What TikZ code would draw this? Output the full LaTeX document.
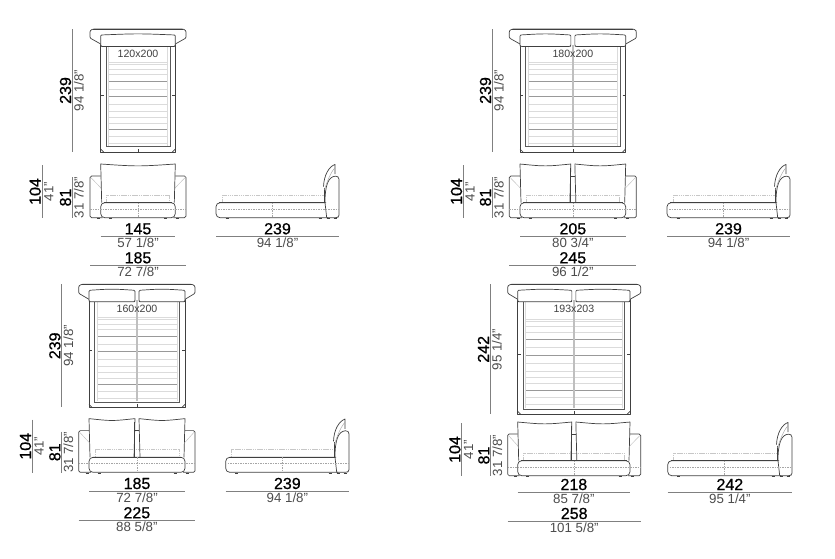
\documentclass[tikz,border=0pt]{standalone}
\usepackage{fontspec}
\setmainfont{Liberation Sans}
\newfontfamily\dimfont[FakeBold=0.7]{Liberation Sans}
\usepackage{tikz}
\tikzstyle{bedline} = [draw=black!75, line width=0.7pt, line join=round]
\tikzstyle{bedthick} = [draw=black!75, line width=1pt]
\tikzstyle{slatline} = [draw=black!14, line width=0.6pt]
\tikzstyle{slatdark} = [draw=black!40, line width=0.7pt]
\tikzstyle{hiddenline} = [draw=black!35, line width=0.45pt, dash pattern=on 1.5pt off 1pt]
\tikzstyle{boxline} = [draw=black!22, line width=0.45pt, dash pattern=on 1.5pt off 0.7pt]
\tikzstyle{dimline} = [draw=black!50, line width=0.6pt]
\tikzstyle{dimbig} = [inner sep=0pt, text=black, font=\dimfont\fontsize{16}{16}\selectfont]
\tikzstyle{dimsmall} = [inner sep=0pt, text=black!70, font=\fontsize{13.3}{13.3}\selectfont]
\tikzstyle{sizelabel} = [inner sep=0pt, text=black!75, font=\fontsize{10.6}{10.6}\selectfont]

% #1 name, #2 x from, #3 x to, #4 y, #5 big text, #6 small text
\newcommand{\dimh}[6]{
\pgfmathsetmacro{\xmid}{(#2+#3)/2}
\coordinate (#1-a) at (#2,#4);
\coordinate (#1-b) at (#3,#4);
\draw[dimline] (#1-a) -- (#1-b);
\node[dimbig, anchor=base] (#1-big) at (\xmid,#4-2) {#5};
\node[dimsmall, anchor=base] (#1-small) at (\xmid,#4+11.3) {#6};
}
% #1 name, #2 x, #3 y from, #4 y to, #5 big text, #6 small text
\newcommand{\dimv}[6]{
\pgfmathsetmacro{\ymid}{(#3+#4)/2}
\coordinate (#1-a) at (#2,#3);
\coordinate (#1-b) at (#2,#4);
\draw[dimline] (#1-a) -- (#1-b);
\node[dimbig, anchor=base, rotate=90] (#1-big) at (#2-1.3,\ymid) {#5};
\node[dimsmall, anchor=base, rotate=90] (#1-small) at (#2+11.3,\ymid) {#6};
}
% #1 x from, #2 x to, #3 y
\newcommand{\plancushion}[3]{
\pgfmathsetmacro{\xc}{(#1+#2)/2}
\draw[bedline, fill=white, rounded corners=1pt] (#1,#3+12) -- (#1,#3+1) .. controls (\xc,#3-0.5) .. (#2,#3+1) -- (#2,#3+12) -- (#2-1,#3+12.5) -- (#1+1,#3+12.5) -- cycle;
}
% #1..#4 x of arm, frame, frame, arm; #5 y top, #6 y bottom, #7 label, #8 cushions, 
\newcommand{\planview}[8]{
\pgfmathsetmacro{\xm}{(#2+#3)/2}
\pgfmathsetmacro{\ys}{(#6-#5)/123}
\pgfmathsetmacro{\ymidp}{(#5+#6)/2+5}
\draw[bedline, rounded corners=1pt] (#2,#5+15) -- (#1,#5+9) -- (#1,#5+2) -- (#1+1,#5+1) -- (#1+3,#5) -- (#4-3,#5) -- (#4-1,#5+1) -- (#4,#5+2) -- (#4,#5+9) -- (#3,#5+15);
\draw[bedthick] (#1+3,#5) -- (#4-3,#5);
\draw[bedline] (#2,#5+15) -- (#2,#6) -- (#3,#6) -- (#3,#5+15);
\draw[bedline] (#2,#6-3) -- (#2+3,#6) (#3,#6-3) -- (#3-3,#6);
\foreach \s in {33,35,40,45,60,75,82,88,94,107,114}
  \draw[slatline] (#2+8,#5+\s*\ys) -- (#3-8,#5+\s*\ys);
\foreach \s in {52,67,100}
  \draw[slatdark] (#2+8,#5+\s*\ys) -- (#3-8,#5+\s*\ys);
\draw[slatline] (#2+8,#5+17) -- (#2+8,#6-6) (#3-8,#5+17) -- (#3-8,#6-6);
\draw[draw=black!65, line width=0.9pt] (#2+5.3,#5+16) -- (#2+5.3,#6-5.3) -- (#3-5.3,#6-5.3) -- (#3-5.3,#5+16);
\draw[bedline] (#2,\ymidp) -- (#2+3,\ymidp) (#3-3,\ymidp) -- (#3,\ymidp) (\xm,#6-3) -- (\xm,#6);
\ifnum#8=2
  \draw[draw=black!25, line width=1.4pt] (\xm,#5+16) -- (\xm,#6-6);
  \plancushion{#2}{\xm-2}{#5+5}
  \plancushion{\xm+2}{#3}{#5+5}
\else
  \plancushion{#2}{#3}{#5+5}
\fi
\node[sizelabel] (#7) at (\xm,#5+25) {#7};
}
% #1 x from, #2 x to, #3 y top, #4 y mattress
\newcommand{\frontcushion}[4]{
\pgfmathsetmacro{\xc}{(#1+#2)/2}
\draw[bedline] (#1+1,#4) -- (#1,#3) .. controls (\xc,#3+2.5) .. (#2,#3) -- (#2-1,#4);
}
% #1..#4 x of arm, frame, frame, arm; #5 y bottom, #6 cushions
\newcommand{\frontview}[6]{
\pgfmathsetmacro{\xm}{(#2+#3)/2}
\draw[bedline, rounded corners=1.5pt] (#2,#5-41.7) -- (#1,#5-41.7) -- (#1,#5) -- (#2+2,#5);
\draw[bedline, rounded corners=1.5pt] (#3,#5-41.7) -- (#4,#5-41.7) -- (#4,#5) -- (#3-2,#5);
\draw[draw=black!25, line width=0.45pt] (#1+1,#5-40) -- (#2,#5-30) (#4-1,#5-40) -- (#3,#5-30);
\draw[boxline] (#2+6,#5-15) -- (#2+6,#5-22.7) -- (#3-6,#5-22.7) -- (#3-6,#5-15);
\ifnum#6=2
  \draw[bedline] (\xm-2,#5-41.7) -- (\xm+2,#5-41.7);
  \frontcushion{#2}{\xm-2}{#5-53.7}{#5-15}
  \frontcushion{\xm+2}{#3}{#5-53.7}{#5-15}
  \draw[bedthick] (\xm-2.8,#5-50) -- (\xm-2.8,#5-15);
\else
  \frontcushion{#2}{#3}{#5-53.7}{#5-15}
\fi
\draw[bedline, fill=white, rounded corners=4pt] (#2,#5-15) rectangle (#3,#5);
\draw[bedthick] (#2+3,#5-15) -- (#3-3,#5-15);
\draw[hiddenline] (#1,#5-8.7) -- (#4,#5-8.7);
\draw[hiddenline] (\xm,#5-15) -- (\xm,#5);
\foreach \l in {#2-2,#2+10,#3-10,#3+2}
  \draw[bedthick] (\l-1.5,#5+0.7) -- (\l+1.5,#5+0.7);
}
% #1 x from, #2 x to, #3 y bottom
\newcommand{\sideview}[3]{
\pgfmathsetmacro{\xm}{(#1+#2-11)/2}
\draw[boxline] (#1+6,#3-15) -- (#1+6,#3-22.7) -- (#2-14,#3-22.7);
\draw[bedline, rounded corners=4pt] (#2-13,#3-15) -- (#1,#3-15) -- (#1,#3) -- (#2-11,#3);
\draw[bedthick] (#1+3,#3-15) -- (#2-14,#3-15);
\draw[bedline, rounded corners=1.5pt] (#2-14,#3-15) .. controls (#2-14,#3-32) and (#2-11,#3-41) .. (#2-2,#3-41.7) -- (#2,#3-40) -- (#2,#3-1) -- (#2-2,#3) -- (#2-12,#3);
\draw[bedline] (#2-14,#3-15) -- (#2-12.3,#3);
\draw[bedthick] (#2-14.5,#3-30) -- (#2-14.5,#3-15);
\draw[bedline] (#2-15.5,#3-31) .. controls (#2-15,#3-43) and (#2-10,#3-51) .. (#2-4,#3-53.3) -- (#2-4,#3-43.5);
\draw[draw=black!35, line width=0.45pt] (#2-14.5,#3-28) .. controls (#2-12,#3-36) and (#2-8,#3-46) .. (#2-4,#3-50);
\draw[hiddenline] (#1+2,#3-8.7) -- (#2,#3-8.7);
\draw[hiddenline] (\xm,#3-15) -- (\xm,#3);
\foreach \l in {#1+11,#2-19,#2-11,#2-4}
  \draw[bedthick] (\l-1.5,#3+0.7) -- (\l+1.5,#3+0.7);
}

\begin{document}
\begin{tikzpicture}[x=1pt,y=-1pt]
\useasboundingbox (0,0) rectangle (835,558);
% top left
\planview{90}{100.7}{175.3}{186}{29}{152}{120x200}{1}
\dimv{planA}{72.3}{29}{152}{239}{94 1/8"}
\frontview{90}{100.7}{175.3}{186}{217.7}{1}
\dimv{heightA}{42}{165}{218}{104}{41"}
\dimv{seatA}{72.3}{177}{218}{81}{31 7/8"}
\dimh{innerA}{100.7}{175.3}{236.3}{145}{57 1/8"}
\dimh{outerA}{90}{186}{265.3}{185}{72 7/8"}
\sideview{216}{339}{217.7}
\dimh{sideA}{216}{339}{236.3}{239}{94 1/8"}
% top right
\planview{509.3}{520}{625.7}{636.3}{29}{152}{180x200}{2}
\dimv{planB}{492.3}{29}{152}{239}{94 1/8"}
\frontview{509.3}{520}{625.7}{636.3}{217.7}{2}
\dimv{heightB}{463.3}{165}{218}{104}{41"}
\dimv{seatB}{492.3}{177}{218}{81}{31 7/8"}
\dimh{innerB}{520}{625.7}{236.3}{205}{80 3/4"}
\dimh{outerB}{509.3}{636.3}{265.3}{245}{96 1/2"}
\sideview{667}{790}{217.7}
\dimh{sideB}{667}{790}{236.3}{239}{94 1/8"}
% bottom left
\planview{78.7}{89}{185}{195}{284.3}{407.3}{160x200}{2}
\dimv{planC}{61.7}{284.3}{407.3}{239}{94 1/8"}
\frontview{78.7}{89}{185}{195}{472.3}{2}
\dimv{heightC}{32.3}{419.5}{473}{104}{41"}
\dimv{seatC}{61.7}{431.5}{473}{81}{31 7/8"}
\dimh{innerC}{89}{185}{491}{185}{72 7/8"}
\dimh{outerC}{78.7}{195}{520.3}{225}{88 5/8"}
\sideview{225.7}{349}{472.3}
\dimh{sideC}{225.7}{349}{491}{239}{94 1/8"}
% bottom right
\planview{507.7}{517.7}{630}{640.7}{284.3}{414.3}{193x203}{2}
\dimv{planD}{490.3}{284.3}{414.3}{242}{95 1/4"}
\frontview{507.7}{517.7}{630}{640.7}{475.7}{2}
\dimv{heightD}{461.7}{423}{476}{104}{41"}
\dimv{seatD}{490.7}{435}{476}{81}{31 7/8"}
\dimh{innerD}{517.7}{630}{492}{218}{85 7/8"}
\dimh{outerD}{507.7}{640.7}{521}{258}{101 5/8"}
\sideview{667.7}{792}{475.7}
\dimh{sideD}{667.7}{792}{492}{242}{95 1/4"}
\end{tikzpicture}
\end{document}
